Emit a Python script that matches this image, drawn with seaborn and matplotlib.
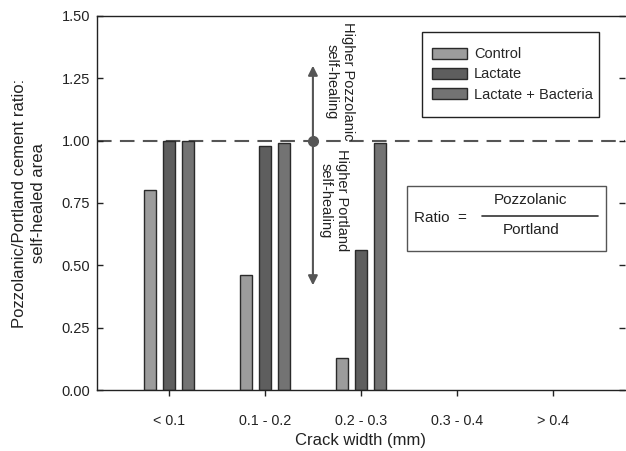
import matplotlib
matplotlib.use("Agg")
import matplotlib.pyplot as plt
import seaborn as sns
import pandas as pd
import numpy as np
from matplotlib.patches import Patch, Rectangle

categories = ["< 0.1", "0.1 - 0.2", "0.2 - 0.3", "0.3 - 0.4", "> 0.4"]
groups = ["Control", "Lactate", "Lactate + Bacteria"]
control = [0.80, 0.46, 0.13, np.nan, np.nan]
lactate = [1.00, 0.98, 0.56, np.nan, np.nan]
lactate_bacteria = [1.00, 0.99, 0.99, np.nan, np.nan]
colors = ["#9c9c9c", "#5e5e5e", "#737373"]
yticks = [0.00, 0.25, 0.50, 0.75, 1.00, 1.25, 1.50]

rows = []
for g, vals in zip(groups, [control, lactate, lactate_bacteria]):
    for c, v in zip(categories, vals):
        rows.append({"Crack": c, "Group": g, "Ratio": v})
df = pd.DataFrame(rows).dropna()

sns.set_theme(style="ticks")
plt.rcParams['font.family'] = ['Liberation Sans', 'DejaVu Sans']

fig = plt.figure(figsize=(6.26, 4.51), dpi=100)
ax = fig.add_axes([0.155, 0.135, 0.843, 0.83])

sns.barplot(data=df, x="Crack", y="Ratio", hue="Group", order=categories,
            hue_order=groups, palette=colors, width=0.6, gap=0.375,
            edgecolor="#2a2a2a", linewidth=1.0, ax=ax, legend=False)

ax.set_xlim(-0.75, 4.75)
ax.set_ylim(0, 1.5)
ax.set_yticks(yticks)
ax.set_yticklabels([f"{t:.2f}" for t in yticks], fontsize=10.5, color="#222222")
ax.tick_params(axis="x", labelsize=10.3, direction="out", length=4, width=1,
               colors="#222222", pad=13)
ax.tick_params(axis="y", direction="in", length=4, width=1, right=True,
               colors="#222222", pad=5)
ax.set_xlabel("Crack width (mm)", fontsize=12, color="#222222", labelpad=4)
ax.set_ylabel("Pozzolanic/Portland cement ratio:\nself-healed area", fontsize=12,
              color="#222222", labelpad=11, linespacing=1.3)
for s in ["left", "bottom", "top"]:
    ax.spines[s].set_color("#222222")
    ax.spines[s].set_linewidth(1.0)
ax.spines["right"].set_visible(False)

# pixel -> axes fraction helpers (axes spans x 97..625, y 16..390 in pixels)
def fx(px):
    return (px - 97) / 528.0

def fy(py):
    return (390 - py) / 374.0

# reference line
ax.axhline(1.0, color="#555555", linestyle=(0, (7, 4)), linewidth=1.5, zorder=0)

# arrows
ax.annotate("", xy=(1.5, 1.30), xytext=(1.5, 1.0),
            arrowprops=dict(arrowstyle="-|>", color="#555555", lw=1.5,
                            mutation_scale=14, shrinkA=0, shrinkB=0))
ax.annotate("", xy=(1.5, 0.42), xytext=(1.5, 1.0),
            arrowprops=dict(arrowstyle="-|>", color="#555555", lw=1.5,
                            mutation_scale=14, shrinkA=0, shrinkB=0))
ax.plot([1.5], [1.0], "o", color="#555555", markersize=7, zorder=5)

ax.text(1.78, 1.475, "Higher Pozzolanic\nself-healing", rotation=270,
        ha="center", va="top", fontsize=10.5, color="#222222", linespacing=1.2)
ax.text(1.72, 0.965, "Higher Portland\nself-healing", rotation=270,
        ha="center", va="top", fontsize=10.5, color="#222222", linespacing=1.2)

# legend (frame drawn separately)
ax.add_patch(Rectangle((fx(422), fy(117)), fx(599) - fx(422), fy(32) - fy(117),
                       transform=ax.transAxes, facecolor="white",
                       edgecolor="#222222", linewidth=1.0, zorder=6))
handles = [Patch(facecolor=c, edgecolor="#2a2a2a", linewidth=1.0) for c in colors]
leg = ax.legend(handles, groups, loc="upper left",
                bbox_to_anchor=(fx(432), fy(47.5)),
                fontsize=10.5, frameon=False, handlelength=2.4,
                handleheight=0.75, borderpad=0, labelspacing=0.42,
                handletextpad=0.5, borderaxespad=0)
leg.set_zorder(7)

# Ratio box
ax.add_patch(Rectangle((fx(407), fy(251)), fx(606) - fx(407), fy(186) - fy(251),
                       transform=ax.transAxes, facecolor="white",
                       edgecolor="#555555", linewidth=1.0, zorder=6))
ax.text(fx(414), fy(218), "Ratio  =", transform=ax.transAxes,
        ha="left", va="center", fontsize=11, color="#222222", zorder=7)
ax.text(fx(531), fy(200), "Pozzolanic", transform=ax.transAxes,
        ha="center", va="center", fontsize=11, color="#222222", zorder=7)
ax.text(fx(531), fy(230), "Portland", transform=ax.transAxes,
        ha="center", va="center", fontsize=11, color="#222222", zorder=7)
ax.plot([fx(482), fx(598)], [fy(216)] * 2,
        transform=ax.transAxes, color="#333333", linewidth=1.2, zorder=7)

fig.savefig("out.png", dpi=100)
